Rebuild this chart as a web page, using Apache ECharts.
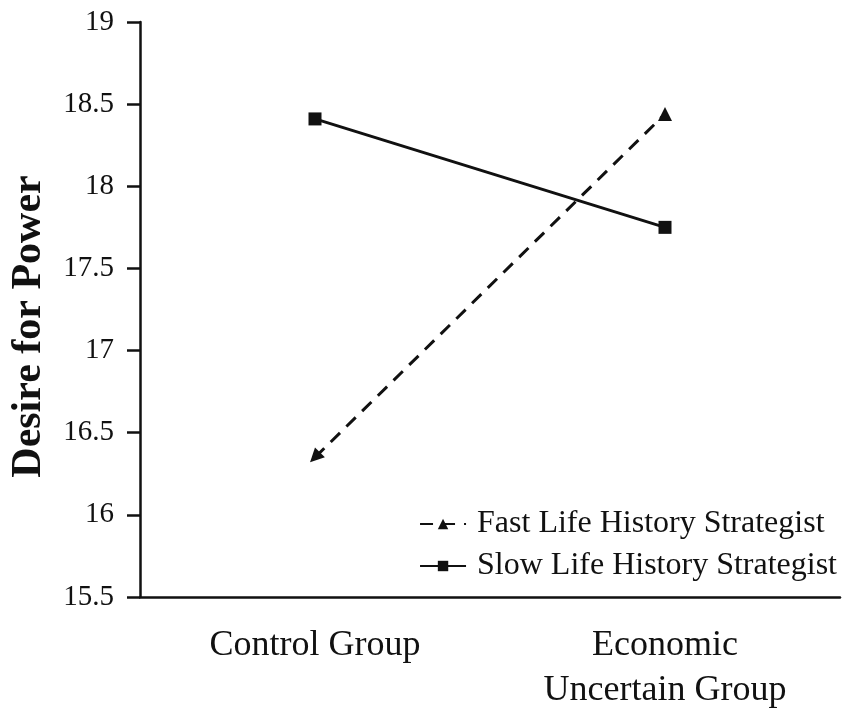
<!DOCTYPE html>
<html>
<head>
<meta charset="utf-8">
<script src="https://cdn.jsdelivr.net/npm/echarts@6/dist/echarts.min.js"></script>
<style>
  html, body { margin: 0; padding: 0; background: #fff; }
  #myChart { width: 850px; height: 718px; }
</style>
</head>
<body>
<div id="myChart"></div>
<script>
var categories = ['Control Group', 'Economic\nUncertain Group'];
var fastData = [16.35, 18.44];
var slowData = [18.41, 17.75];
var yTicks = { min: 15.5, max: 19, interval: 0.5 };

var serif = '"Liberation Serif", "Times New Roman", serif';
var ink = '#111';

var dom = document.getElementById('myChart');
var myChart = echarts.init(dom);

var option = {
    backgroundColor: '#fff',
    animation: false,
    grid: {
        left: 138,
        right: 10,
        top: 22,
        bottom: 121
    },
    legend: {
        orient: 'vertical',
        right: 8,
        top: 503,
        itemWidth: 46,
        itemHeight: 13,
        itemGap: 10,
        textStyle: {
            fontFamily: serif,
            fontSize: 32,
            color: ink,
            padding: [0, 0, 0, 6]
        },
        data: ['Fast Life History Strategist', 'Slow Life History Strategist']
    },
    xAxis: {
        type: 'category',
        boundaryGap: true,
        data: categories,
        axisLine: { show: true, lineStyle: { color: ink, width: 2.5 } },
        axisTick: { show: false },
        axisLabel: {
            margin: 26,
            fontFamily: serif,
            fontSize: 36,
            lineHeight: 45,
            color: ink
        }
    },
    yAxis: {
        type: 'value',
        min: yTicks.min,
        max: yTicks.max,
        interval: yTicks.interval,
        name: 'Desire for Power',
        nameLocation: 'middle',
        nameGap: 90,
        nameTextStyle: {
            fontFamily: serif,
            fontSize: 42,
            fontWeight: 'bold',
            color: ink,
            padding: [0, 34, 0, 0]
        },
        axisLine: { show: true, lineStyle: { color: ink, width: 2.5 } },
        axisTick: { show: true, length: 13, lineStyle: { color: ink, width: 2.5 } },
        splitLine: { show: false },
        axisLabel: {
            margin: 26,
            fontFamily: serif,
            fontSize: 29,
            color: ink
        }
    },
    series: [{
        name: 'Fast Life History Strategist',
        type: 'line',
        symbol: 'triangle',
        symbolSize: 14,
        lineStyle: { color: ink, width: 3, type: [13, 9] },
        itemStyle: { color: ink },
        data: [{ value: fastData[0], symbolRotate: 135 }, fastData[1]]
    }, {
        name: 'Slow Life History Strategist',
        type: 'line',
        symbol: 'rect',
        symbolSize: 13,
        lineStyle: { color: ink, width: 3 },
        itemStyle: { color: ink },
        data: slowData
    }]
};
myChart.setOption(option, true);
</script>
</body>
</html>
